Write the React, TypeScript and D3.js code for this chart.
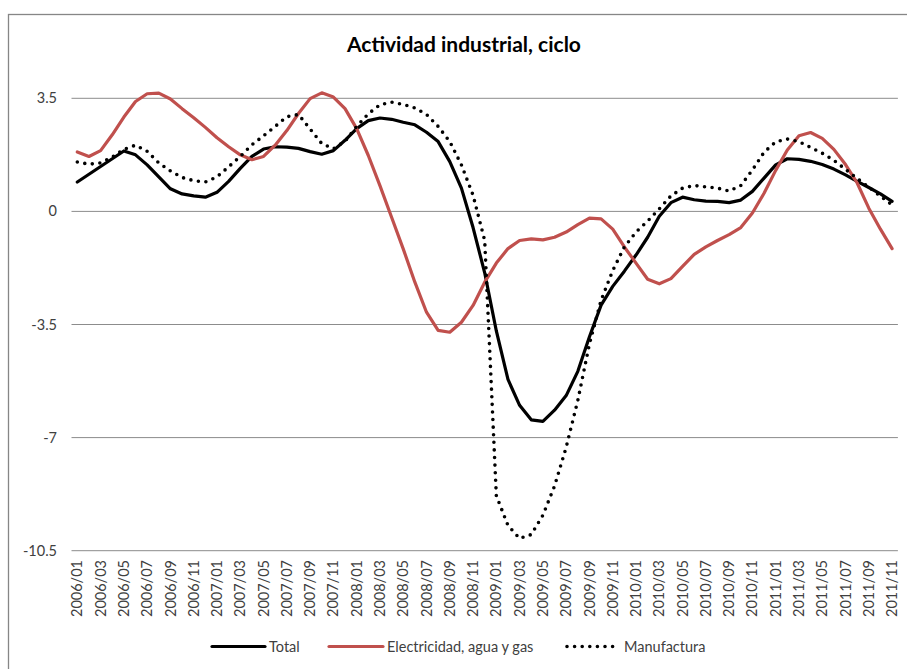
import React from "react";
import * as d3 from "d3";

const startYear = 2006;
const monthCount = 71; // 2006/01 .. 2011/11
const months: string[] = Array.from({ length: monthCount }, (_, i) => {
  const y = startYear + Math.floor(i / 12);
  const m = (i % 12) + 1;
  return `${y}/${m < 10 ? "0" + m : m}`;
});

const totalValues = [0.91,1.15,1.39,1.63,1.87,1.75,1.44,1.07,0.70,0.54,0.48,0.44,0.59,0.93,1.33,1.70,1.93,2.0,1.99,1.95,1.85,1.77,1.88,2.2,2.56,2.81,2.89,2.85,2.76,2.68,2.45,2.16,1.54,0.72,-0.5,-1.9,-3.7,-5.2,-6.0,-6.45,-6.5,-6.15,-5.7,-4.95,-3.88,-2.9,-2.32,-1.85,-1.35,-0.8,-0.15,0.27,0.44,0.36,0.32,0.31,0.27,0.35,0.62,1.03,1.44,1.63,1.61,1.55,1.45,1.31,1.13,0.93,0.74,0.54,0.31];

const electricidadValues = [1.84,1.70,1.88,2.37,2.92,3.40,3.64,3.66,3.48,3.18,2.9,2.6,2.28,2.0,1.75,1.6,1.7,2.05,2.5,3.03,3.49,3.67,3.54,3.18,2.56,1.73,0.8,-0.18,-1.16,-2.19,-3.12,-3.68,-3.74,-3.43,-2.91,-2.19,-1.6,-1.15,-0.9,-0.85,-0.88,-0.8,-0.64,-0.41,-0.21,-0.23,-0.55,-1.1,-1.6,-2.1,-2.24,-2.08,-1.7,-1.33,-1.1,-0.9,-0.72,-0.5,-0.05,0.56,1.27,1.9,2.34,2.44,2.26,1.92,1.45,0.88,0.1,-0.55,-1.15];

const manufacturaValues = [1.53,1.46,1.5,1.68,1.92,2.05,1.86,1.5,1.25,1.05,0.95,0.91,1.07,1.38,1.7,2.06,2.34,2.63,2.93,3.0,2.55,2.1,1.94,2.17,2.63,3.02,3.3,3.38,3.31,3.2,3.0,2.63,2.16,1.44,0.5,-0.9,-8.8,-9.72,-10.12,-10.0,-9.4,-8.5,-7.3,-5.85,-4.1,-2.75,-1.83,-1.1,-0.64,-0.3,0.08,0.48,0.72,0.8,0.76,0.72,0.63,0.8,1.28,1.83,2.15,2.24,2.16,1.98,1.8,1.58,1.3,1.02,0.75,0.47,0.2];

const yTicks = [3.5, 0, -3.5, -7, -10.5];
const title = "Actividad industrial, ciclo";
const seriesNames = ["Total", "Electricidad, agua y gas", "Manufactura"];

const W = 907;
const H = 669;
const FONT = "Lato, 'Open Sans', sans-serif";

export default function App() {
  const x = d3.scaleBand<string>().domain(months).range([71.5, 897.9]).padding(0);
  const y = d3.scaleLinear().domain([-10.5, 3.5]).range([550.7, 98.3]);
  const cx = (m: string) => (x(m) as number) + x.bandwidth() / 2;

  const line = d3
    .line<number>()
    .x((_, i) => cx(months[i]))
    .y((v) => y(v))
    .curve(d3.curveLinear);

  const series = [
    { name: seriesNames[0], values: totalValues, color: "#000000", dash: undefined as string | undefined, width: 3.2 },
    { name: seriesNames[1], values: electricidadValues, color: "#C0504D", dash: undefined as string | undefined, width: 3.2 },
    { name: seriesNames[2], values: manufacturaValues, color: "#000000", dash: "0 7.6", width: 3.6 },
  ];

  const legendItems = [
    { name: seriesNames[0], x1: 212, x2: 265, tx: 269, color: "#000000", dash: undefined as string | undefined, width: 3.2 },
    { name: seriesNames[1], x1: 329, x2: 383, tx: 387, color: "#C0504D", dash: undefined as string | undefined, width: 3.2 },
    { name: seriesNames[2], x1: 567, x2: 616, tx: 624, color: "#000000", dash: "0 7.6", width: 3.6 },
  ];
  const legendY = 646.5;

  return (
    <svg
      width={W}
      height={H}
      style={{ position: "absolute", left: 0, top: 0, display: "block", background: "#fff" }}
      fontFamily={FONT}
    >
      <rect x={0} y={0} width={W} height={H} fill="#ffffff" />
      <rect x={8.5} y={14.5} width={1000} height={1000} fill="none" stroke="#868686" strokeWidth={1.3} />

      <text x={464} y={52} textAnchor="middle" fontSize={21} fontWeight="bold" fill="#000">
        {title}
      </text>

      {yTicks.map((t) => (
        <g key={t}>
          <line x1={71.5} x2={897.9} y1={y(t)} y2={y(t)} stroke="#8c8c8c" strokeWidth={1} />
          <text x={57} y={y(t)} dy="0.35em" textAnchor="end" fontSize={14.5} fill="#404040">
            {String(t)}
          </text>
        </g>
      ))}

      {months.map((m, i) =>
        i % 2 === 0 ? (
          <text
            key={m}
            transform={`translate(${cx(m)},560) rotate(-90)`}
            dy="0.35em"
            textAnchor="end"
            fontSize={14.5}
            fill="#404040"
          >
            {m}
          </text>
        ) : null
      )}

      {series.map((s) => (
        <path
          key={s.name}
          d={line(s.values) || ""}
          fill="none"
          stroke={s.color}
          strokeWidth={s.width}
          strokeDasharray={s.dash}
          strokeLinecap="round"
          strokeLinejoin="round"
        />
      ))}

      {legendItems.map((l) => (
        <g key={l.name}>
          <line
            x1={l.x1}
            x2={l.x2}
            y1={legendY}
            y2={legendY}
            stroke={l.color}
            strokeWidth={l.width}
            strokeDasharray={l.dash}
            strokeLinecap="round"
          />
          <text x={l.tx} y={legendY} dy="0.35em" fontSize={14.5} fill="#404040">
            {l.name}
          </text>
        </g>
      ))}
    </svg>
  );
}
